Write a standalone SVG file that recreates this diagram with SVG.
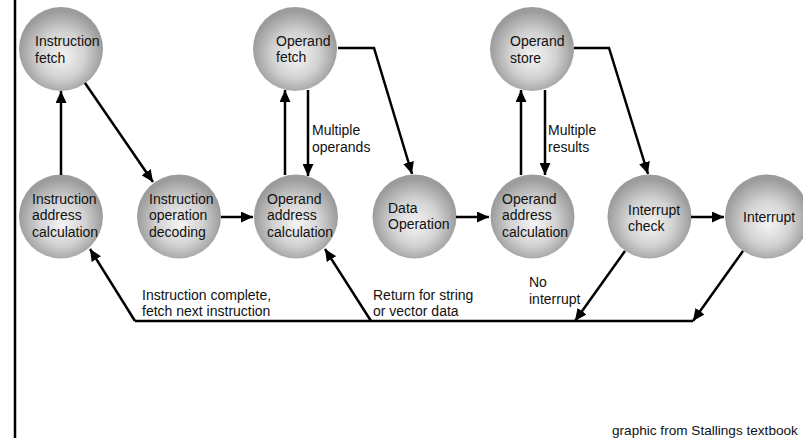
<svg xmlns="http://www.w3.org/2000/svg" width="803" height="438" viewBox="0 0 803 438">
  <style>
    text { font-family: "Liberation Sans", Arial, sans-serif; font-size: 14px; fill: #111; }
    .node circle { fill: url(#ball); }
    .conn { stroke: #000; stroke-width: 2.5; fill: none; }
    .arr { marker-end: url(#ah); }
    .foot { font-size: 13.6px; }
  </style>
  <defs>
    <radialGradient id="ball" cx="50%" cy="55%" r="50%" fx="52%" fy="60%">
      <stop offset="0" stop-color="#f4f4f4"/>
      <stop offset="0.55" stop-color="#d2d2d2"/>
      <stop offset="1" stop-color="#9c9c9c"/>
    </radialGradient>
    <marker id="ah" markerUnits="userSpaceOnUse" markerWidth="13" markerHeight="11" refX="12" refY="5.5" orient="auto">
      <path d="M0,0 L12,5.5 L0,11 z" fill="#000"/>
    </marker>
  </defs>
  <rect x="0" y="0" width="803" height="438" fill="#fff"/>
  <line x1="15" y1="0" x2="15" y2="438" stroke="#000" stroke-width="2.5"/>

  <g id="instruction-fetch" class="node">
    <circle cx="61" cy="49" r="42"/>
    <text x="35" y="46">Instruction</text>
    <text x="35" y="63">fetch</text>
  </g>
  <g id="instruction-address-calculation" class="node">
    <circle cx="61" cy="216.5" r="42"/>
    <text x="32" y="204">Instruction</text>
    <text x="32" y="220">address</text>
    <text x="32" y="237">calculation</text>
  </g>
  <g id="instruction-operation-decoding" class="node">
    <circle cx="179" cy="216.5" r="42"/>
    <text x="149" y="204">Instruction</text>
    <text x="149" y="220">operation</text>
    <text x="149" y="237">decoding</text>
  </g>
  <g id="operand-fetch" class="node">
    <circle cx="295" cy="49" r="42"/>
    <text x="276" y="46">Operand</text>
    <text x="276" y="62">fetch</text>
  </g>
  <g id="operand-address-calculation-1" class="node">
    <circle cx="296" cy="216.5" r="42"/>
    <text x="267" y="204">Operand</text>
    <text x="267" y="220">address</text>
    <text x="267" y="237">calculation</text>
  </g>
  <g id="data-operation" class="node">
    <circle cx="414.5" cy="216.5" r="42"/>
    <text x="388" y="213">Data</text>
    <text x="388" y="229">Operation</text>
  </g>
  <g id="operand-store" class="node">
    <circle cx="532" cy="49" r="42"/>
    <text x="510" y="46">Operand</text>
    <text x="510" y="63">store</text>
  </g>
  <g id="operand-address-calculation-2" class="node">
    <circle cx="532.5" cy="216.5" r="42"/>
    <text x="502" y="204">Operand</text>
    <text x="502" y="220">address</text>
    <text x="502" y="237">calculation</text>
  </g>
  <g id="interrupt-check" class="node">
    <circle cx="649.5" cy="216.5" r="42"/>
    <text x="628" y="215">Interrupt</text>
    <text x="628" y="231">check</text>
  </g>
  <g id="interrupt" class="node">
    <circle cx="767" cy="216.5" r="42"/>
    <text x="743" y="222">Interrupt</text>
  </g>

  <g id="connectors">
    <line class="conn arr" x1="61" y1="175" x2="61" y2="91"/>
    <line class="conn arr" x1="85" y1="83" x2="153" y2="182"/>
    <line class="conn arr" x1="221" y1="217" x2="253" y2="217"/>
    <line class="conn arr" x1="285" y1="175" x2="285" y2="90"/>
    <line class="conn arr" x1="308" y1="90" x2="308" y2="176"/>
    <polyline class="conn arr" points="338,48 374,48 412,174"/>
    <line class="conn arr" x1="456" y1="217" x2="489" y2="217"/>
    <line class="conn arr" x1="521" y1="175" x2="521" y2="90"/>
    <line class="conn arr" x1="545" y1="90" x2="545" y2="175"/>
    <polyline class="conn arr" points="574,48 609,48 648,174"/>
    <line class="conn arr" x1="691" y1="217" x2="724" y2="217"/>
    <line class="conn arr" x1="625" y1="251" x2="575" y2="321"/>
    <line class="conn arr" x1="743" y1="251" x2="693" y2="321"/>
    <line class="conn" x1="135" y1="321" x2="693" y2="321"/>
    <line class="conn arr" x1="135" y1="321" x2="90" y2="249"/>
    <line class="conn arr" x1="371" y1="321" x2="325" y2="249"/>
    <text x="312" y="135">Multiple</text>
    <text x="312" y="152">operands</text>
    <text x="548" y="135">Multiple</text>
    <text x="548" y="152">results</text>
    <text x="142" y="300">Instruction complete,</text>
    <text x="142" y="316">fetch next instruction</text>
    <text x="373" y="300">Return for string</text>
    <text x="373" y="316">or vector data</text>
    <text x="529" y="287">No</text>
    <text x="529" y="304">interrupt</text>
  </g>

  <text class="foot" x="612" y="435">graphic from Stallings textbook</text>
</svg>
